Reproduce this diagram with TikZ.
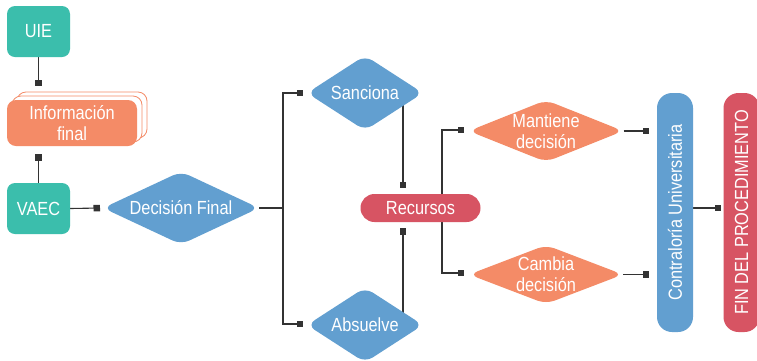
\documentclass[tikz,border=0pt]{standalone}
\usepackage{fontspec}
\setmainfont{Liberation Sans}[FakeStretch=0.86]
\usetikzlibrary{shapes.geometric,shadows,arrows.meta,backgrounds}
\definecolor{cteal}{HTML}{3BBEAC}
\definecolor{corange}{HTML}{F48B67}
\definecolor{cblue}{HTML}{629FD0}
\definecolor{cred}{HTML}{D75463}
\definecolor{cline}{HTML}{333333}
\tikzset{
  lbl/.style={text=white,font=\fontsize{19}{21}\selectfont,align=center,inner sep=0pt},
  tealbox/.style={lbl,fill=cteal,rounded corners=8pt,minimum width=63pt,minimum height=51pt},
  infobox/.style={lbl,fill=corange,rounded corners=9pt,minimum width=130pt,minimum height=46pt,
    double copy shadow={shadow xshift=5pt,shadow yshift=4pt,fill=white,draw=corange,line width=0.8pt}},
  dia/.style={lbl,diamond,rounded corners=9pt},
  bluedia/.style={dia,fill=cblue},
  orangedia/.style={dia,fill=corange},
  pill/.style={lbl,fill=cred,rounded corners=13.9pt,minimum width=120pt,minimum height=28pt},
  tallbox/.style={lbl,rounded corners=15pt,minimum width=239pt,minimum height=36pt,rotate=90},
  conn/.style={draw=cline,line width=1.1pt,-{Square[length=6.5pt,width=6.5pt]}},
  plain/.style={draw=cline,line width=1.1pt}
}
\begin{document}
\begin{tikzpicture}[x=1pt,y=-1pt]
\useasboundingbox (0,0) rectangle (757,360);
% nodes
\node[tealbox] (uie) at (38.5,31.5) {UIE};
\node[infobox] (info) at (72,123) {Información\\final};
\node[tealbox] (vaec) at (38.5,208.5) {VAEC};
\node[bluedia,aspect=2.6,minimum width=156pt,minimum height=73pt] (dec) at (181,208) {Decisión Final};
\node[bluedia,aspect=1.8,minimum width=116pt,minimum height=75pt] (san) at (365,93) {Sanciona};
\node[bluedia,aspect=1.8,minimum width=116pt,minimum height=75pt] (abs) at (365,325) {Absuelve};
\node[pill] (rec) at (420.5,208) {Recursos};
\node[orangedia,aspect=2.5,minimum width=154pt,minimum height=58pt] (man) at (546,131) {Mantiene\\decisión};
\node[orangedia,aspect=2.5,minimum width=154pt,minimum height=58pt] (cam) at (546,274.5) {Cambia\\decisión};
\node[tallbox,fill=cblue] (con) at (675,212.5) {Contraloría Universitaria};
\node[tallbox,fill=cred] (fin) at (741.5,212.5) {FIN DEL PROCEDIMIENTO};
% connector end points
\coordinate (e1) at (38.5,86);
\coordinate (e2) at (38.5,154);
\coordinate (e3) at (100,208);
\coordinate (bx) at (283,208);
\coordinate (s1) at (303,93);
\coordinate (a1) at (303,324);
\coordinate (r1) at (403,188);
\coordinate (r2) at (403,228);
\coordinate (rb) at (442,208);
\coordinate (m1) at (464,130);
\coordinate (c1) at (464,273);
\coordinate (k1) at (649,131);
\coordinate (k2) at (649,274.5);
\coordinate (f1) at (721,208);
\begin{scope}[on background layer]
\fill[white] (0,0) rectangle (757,360);
\draw[conn] (uie.south) -- (e1);
\draw[conn] (vaec.north) -- (e2);
\draw[conn] (vaec.east) -- (e3);
\draw[plain] (dec.east) -- (bx);
\draw[conn] (bx) |- (s1);
\draw[conn] (bx) |- (a1);
\draw[conn] ([xshift=38pt]san.center) -- (r1);
\draw[conn] ([xshift=38pt]abs.center) -- (r2);
\draw[conn] (rb) |- (m1);
\draw[conn] (rb) |- (c1);
\draw[conn] (man.east) -- (k1);
\draw[conn] (cam.east) -- (k2);
\draw[conn] (con.south |- f1) -- (f1);
\end{scope}
\end{tikzpicture}
\end{document}
